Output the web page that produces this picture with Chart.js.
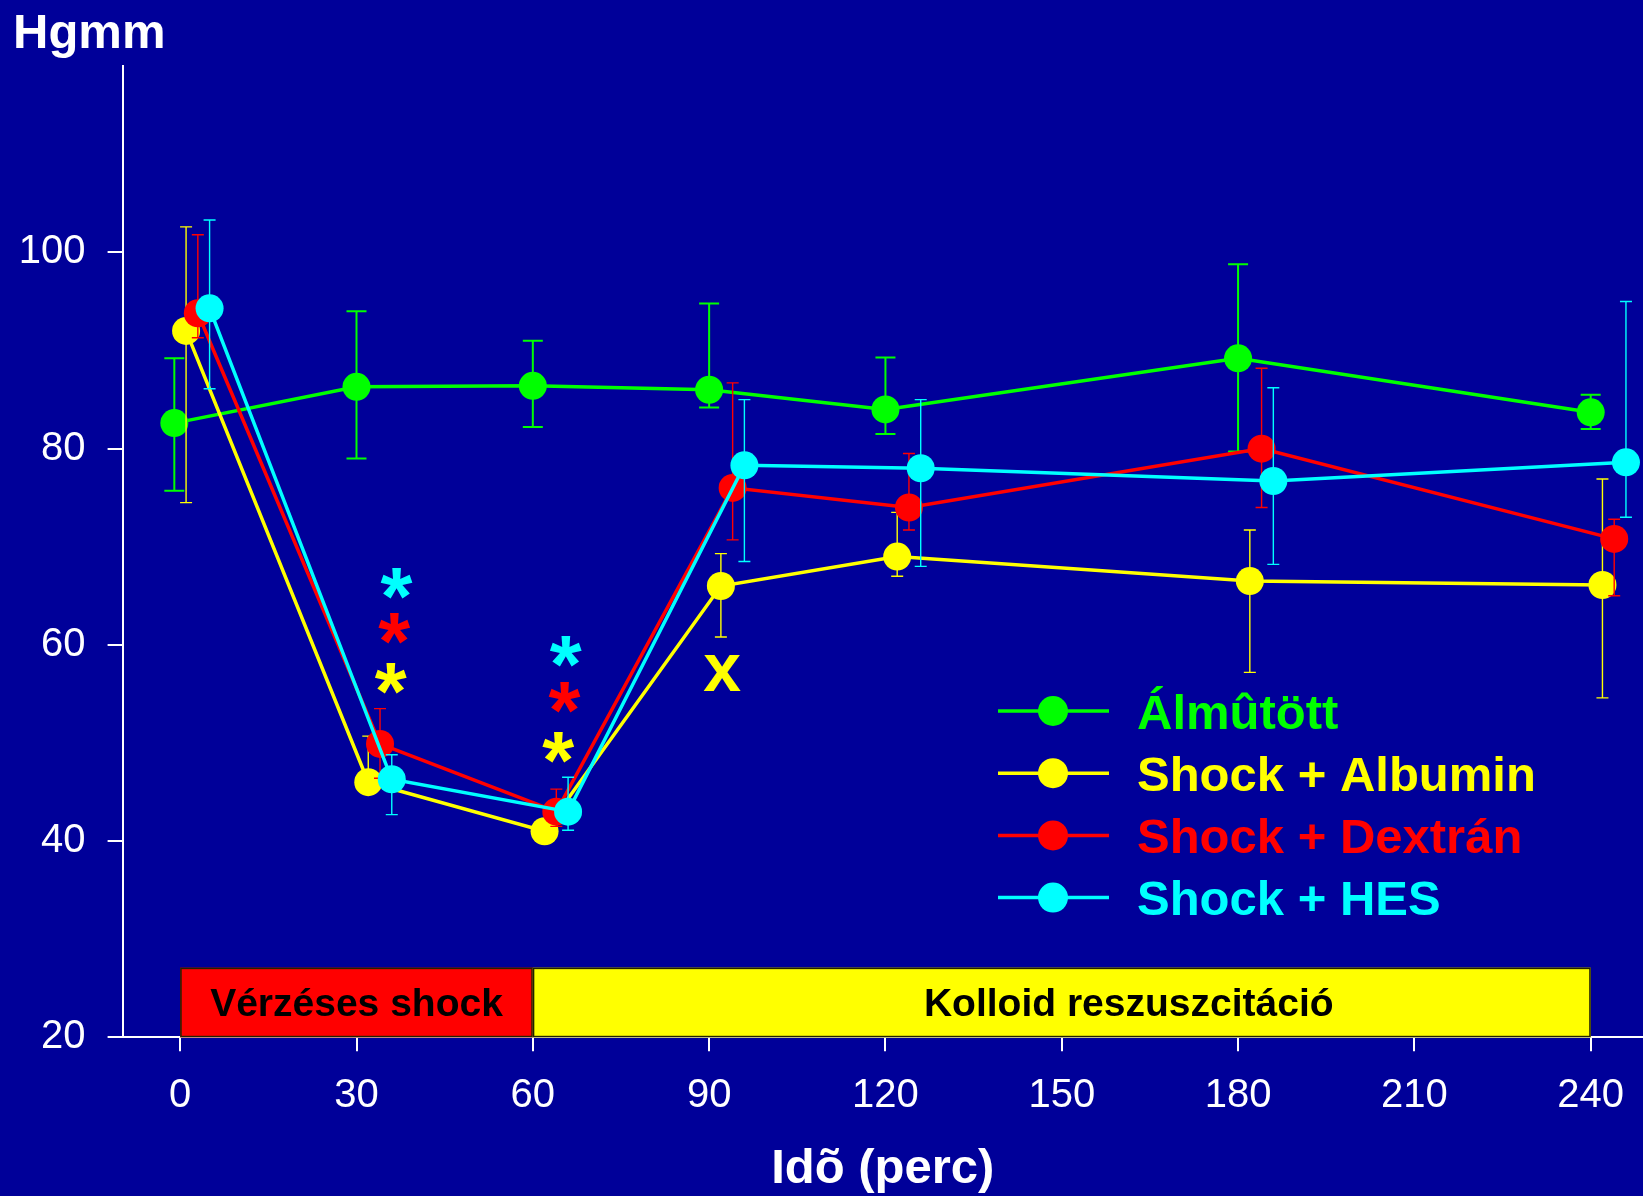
<!DOCTYPE html>
<html lang="hu">
<head>
<meta charset="utf-8">
<title>Artériás középnyomás – Hgmm</title>
<script src="https://cdn.jsdelivr.net/npm/chart.js@4.4.1/dist/chart.umd.min.js"></script>
<style>
  html, body { margin: 0; padding: 0; background: #000099; overflow: hidden; }
  #wrap { position: relative; width: 1643px; height: 1196px; }
</style>
</head>
<body>
<div id="wrap"><canvas id="c"></canvas></div>
<script>
const FONT = '"Liberation Sans", Arial, Helvetica, sans-serif';

// ---- axis ticks ----
const timeTicks = [0, 30, 60, 90, 120, 150, 180, 210, 240];
const pressureTicks = [20, 40, 60, 80, 100];

// ---- groups ----
const seriesNames = ['Álmûtött', 'Shock + Albumin', 'Shock + Dextrán', 'Shock + HES'];
const seriesColors = ['#00ff00', '#ffff00', '#ff0000', '#00ffff'];

// ---- measurements (time in min, pressure in Hgmm, error bar ends) ----
const shamTime = [-1, 30, 60, 90, 120, 180, 240];
const shamMean = [82.6, 86.3, 86.4, 86.0, 84.0, 89.2, 83.7];
const shamHigh = [89.2, 94.0, 91.0, 94.8, 89.3, 98.8, 85.5];
const shamLow  = [75.7, 79.0, 82.2, 84.2, 81.5, 79.7, 82.0];

const albTime = [1, 32, 62, 92, 122, 182, 242];
const albMean = [92.0, 46.0, 41.0, 66.0, 69.0, 66.5, 66.1];
const albHigh = [102.6, 50.7, 42.0, 69.3, 73.5, 71.7, 76.9];
const albLow  = [74.5, 45.0, 40.0, 60.8, 67.0, 57.2, 54.6];

const dexTime = [3, 34, 64, 94, 124, 184, 244];
const dexMean = [93.8, 49.9, 43.0, 76.0, 74.0, 80.0, 70.8];
const dexHigh = [101.8, 53.5, 45.3, 86.7, 79.5, 88.2, 72.8];
const dexLow  = [91.3, 46.4, 41.5, 70.7, 71.7, 74.0, 65.0];

const hesTime = [5, 36, 66, 96, 126, 186, 246];
const hesMean = [94.3, 46.3, 43.0, 78.3, 78.0, 76.7, 78.6];
const hesHigh = [103.3, 48.8, 46.5, 85.0, 85.0, 86.2, 95.0];
const hesLow  = [86.1, 42.7, 41.1, 68.5, 68.0, 68.2, 73.0];

// ---- protocol phases (min) ----
const phaseStart = [0, 60];
const phaseEnd   = [60, 240];
const phaseNames = ['Vérzéses shock', 'Kolloid reszuszcitáció'];
const phaseLabelAt = [30, 161.4];
const phaseTop = 27.1;

// ---- significance marks: time, level, glyph, group index ----
const markTime   = [36.8, 36.4, 35.8, 65.6, 65.4, 64.3, 92.2];
const markLevel  = [66.3, 61.7, 56.6, 59.3, 54.6, 49.5, 57.1];
const markGlyph  = ['*', '*', '*', '*', '*', '*', 'x'];
const markSeries = [3, 2, 1, 3, 2, 1, 1];

const toPoints = (xs, ys) => xs.map((x, i) => ({ x, y: ys[i] }));

function makeSet(idx, xs, ys, hi, lo, order, barWidth, capHalf) {
  return {
    label: seriesNames[idx],
    data: toPoints(xs, ys),
    errHigh: hi,
    errLow: lo,
    errWidth: barWidth,
    errCap: capHalf,
    borderColor: seriesColors[idx],
    backgroundColor: seriesColors[idx],
    pointBackgroundColor: seriesColors[idx],
    pointBorderWidth: 0,
    pointRadius: 14,
    borderWidth: 3.5,
    tension: 0,
    order,
    clip: false
  };
}

const datasets = [
  makeSet(0, shamTime, shamMean, shamHigh, shamLow, 3, 2, 10),
  makeSet(1, albTime, albMean, albHigh, albLow, 2, 1.4, 6),
  makeSet(2, dexTime, dexMean, dexHigh, dexLow, 1, 1.4, 6),
  makeSet(3, hesTime, hesMean, hesHigh, hesLow, 0, 1.4, 6)
];

const background = {
  id: 'background',
  beforeDraw(chart) {
    const ctx = chart.ctx;
    ctx.save();
    ctx.fillStyle = '#000099';
    ctx.fillRect(0, 0, chart.width, chart.height);
    ctx.restore();
  }
};

// protocol bars sitting on the time axis
const phases = {
  id: 'phases',
  beforeDatasetsDraw(chart) {
    const { ctx, scales: { x, y } } = chart;
    const fills = ['#ff0000', '#ffff00'];
    ctx.save();
    const yb = y.getPixelForValue(20);
    const yt = y.getPixelForValue(phaseTop);
    phaseStart.forEach((s, i) => {
      const xl = x.getPixelForValue(s);
      const xr = x.getPixelForValue(phaseEnd[i]);
      ctx.fillStyle = fills[i];
      ctx.fillRect(xl, yt, xr - xl, yb - yt);
      ctx.strokeStyle = '#222200';
      ctx.lineWidth = 1.5;
      ctx.strokeRect(xl + 0.75, yt + 0.75, xr - xl - 1.5, yb - yt - 1.5);
      ctx.fillStyle = '#000000';
      ctx.font = `bold 39px ${FONT}`;
      ctx.textAlign = 'center';
      ctx.textBaseline = 'alphabetic';
      ctx.fillText(phaseNames[i], x.getPixelForValue(phaseLabelAt[i]), (yt + yb) / 2 + 14);
    });
    ctx.restore();
  }
};

// vertical error bars, drawn just under each group's line
const errorBars = {
  id: 'errorBars',
  beforeDatasetDraw(chart, args) {
    const ds = chart.data.datasets[args.index];
    const meta = args.meta;
    const y = chart.scales.y;
    const ctx = chart.ctx;
    ctx.save();
    ctx.strokeStyle = ds.borderColor;
    ctx.lineWidth = ds.errWidth;
    meta.data.forEach((pt, i) => {
      const yh = y.getPixelForValue(ds.errHigh[i]);
      const yl = y.getPixelForValue(ds.errLow[i]);
      const px = pt.x;
      ctx.beginPath();
      ctx.moveTo(px, yh); ctx.lineTo(px, yl);
      ctx.moveTo(px - ds.errCap, yh); ctx.lineTo(px + ds.errCap, yh);
      ctx.moveTo(px - ds.errCap, yl); ctx.lineTo(px + ds.errCap, yl);
      ctx.stroke();
    });
    ctx.restore();
  }
};

const extras = {
  id: 'extras',
  afterDatasetsDraw(chart) {
    const { ctx, scales: { x, y } } = chart;
    ctx.save();
    // significance marks
    markTime.forEach((t, i) => {
      const glyph = markGlyph[i];
      ctx.font = glyph === '*' ? `bold 82px ${FONT}` : `bold 68px ${FONT}`;
      ctx.fillStyle = seriesColors[markSeries[i]];
      ctx.textAlign = 'center';
      ctx.textBaseline = 'alphabetic';
      const m = ctx.measureText(glyph);
      const cy = y.getPixelForValue(markLevel[i]);
      const base = cy + (m.actualBoundingBoxAscent - m.actualBoundingBoxDescent) / 2;
      ctx.fillText(glyph, x.getPixelForValue(t), base);
    });

    // legend
    const rowY0 = 711, rowStep = 62.2;
    chart.data.datasets.forEach((ds, i) => {
      const ry = rowY0 + i * rowStep;
      ctx.strokeStyle = ds.borderColor;
      ctx.lineWidth = 3.5;
      ctx.beginPath();
      ctx.moveTo(998, ry); ctx.lineTo(1109, ry);
      ctx.stroke();
      ctx.fillStyle = ds.borderColor;
      ctx.beginPath();
      ctx.arc(1053, ry, 15, 0, Math.PI * 2);
      ctx.fill();
      ctx.font = `bold 49px ${FONT}`;
      ctx.textAlign = 'left';
      ctx.textBaseline = 'alphabetic';
      ctx.fillText(ds.label, 1137, ry + 17.5);
    });

    // unit label
    ctx.fillStyle = '#ffffff';
    ctx.font = `bold 49px ${FONT}`;
    ctx.textAlign = 'left';
    ctx.fillText('Hgmm', 13, 48);
    ctx.restore();
  }
};

new Chart(document.getElementById('c'), {
  type: 'line',
  data: { datasets },
  options: {
    responsive: true,
    maintainAspectRatio: false,
    animation: false,
    events: [],
    layout: { autoPadding: false, padding: { top: 66, left: 0, right: 0, bottom: 0 } },
    plugins: {
      legend: { display: false },
      tooltip: { enabled: false },
      title: { display: false }
    },
    scales: {
      x: {
        type: 'linear',
        min: -9.8,
        max: 248.9,
        afterBuildTicks: s => { s.ticks = timeTicks.map(v => ({ value: v })); },
        afterFit: s => { s.height = 158.7; s.paddingLeft = 0; s.paddingRight = 0; },
        grid: { drawOnChartArea: false, drawTicks: true, tickLength: 14, color: '#ffffff', lineWidth: 2 },
        border: { display: true, color: '#ffffff', width: 2 },
        ticks: { color: '#ffffff', font: { family: FONT, size: 40 }, padding: 21, maxRotation: 0, autoSkip: false },
        title: { display: true, text: 'Idõ (perc)', color: '#ffffff', font: { family: FONT, size: 49, weight: 'bold' }, padding: { top: 0, bottom: -3 } }
      },
      y: {
        type: 'linear',
        min: 20,
        max: 119,
        afterBuildTicks: s => { s.ticks = pressureTicks.map(v => ({ value: v })); },
        afterFit: s => { s.width = 122.6; s.paddingTop = 0; s.paddingBottom = 0; },
        grid: { drawOnChartArea: false, drawTicks: true, tickLength: 15, color: '#ffffff', lineWidth: 2 },
        border: { display: true, color: '#ffffff', width: 2 },
        ticks: { color: '#ffffff', font: { family: FONT, size: 40 }, padding: 22 }
      }
    }
  },
  plugins: [background, phases, errorBars, extras]
});
</script>
</body>
</html>
